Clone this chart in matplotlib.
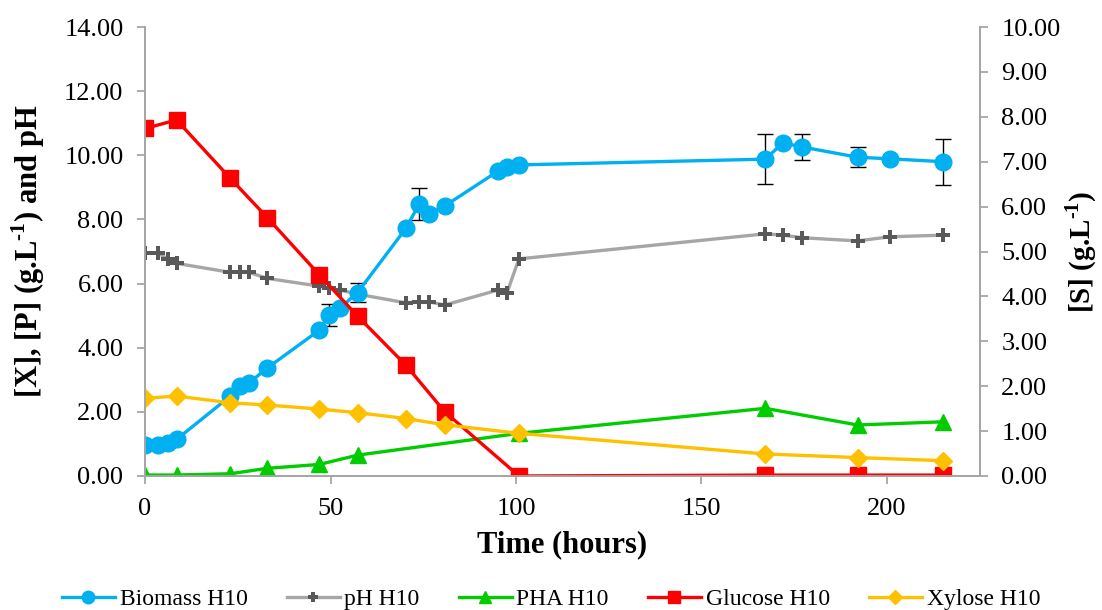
import matplotlib
matplotlib.use("Agg")
import matplotlib.pyplot as plt
from matplotlib.lines import Line2D

# ---- data ----
time_h = [0, 3.4, 6.2, 8.5, 23, 25.6, 28, 33, 47, 49.6, 52.5, 57.3, 70.3, 73.9,
          76.5, 80.8, 95.2, 97.6, 100.8, 167.2, 172, 177.1, 192.1, 200.8, 215.2]
biomass = [0.97, 0.97, 1.04, 1.14, 2.49, 2.81, 2.90, 3.37, 4.55, 5.02, 5.23, 5.72,
           7.72, 8.48, 8.17, 8.42, 9.51, 9.65, 9.70, 9.88, 10.39, 10.26, 9.94, 9.89, 9.80]
biomass_err = [0, 0, 0, 0, 0, 0, 0, 0, 0, 0.35, 0, 0.30, 0, 0.50, 0, 0, 0, 0, 0,
               0.78, 0, 0.40, 0.32, 0, 0.72]
ph = [6.94, 6.96, 6.76, 6.63, 6.35, 6.35, 6.35, 6.16, 5.92, 5.85, 5.80, 5.67, 5.40,
      5.43, 5.43, 5.33, 5.80, 5.72, 6.77, 7.55, 7.51, 7.43, 7.33, 7.46, 7.51]

pha_t = [0, 8.5, 23, 33, 47, 57.3, 100.8, 167.2, 192.1, 215.2]
pha = [0.03, 0.03, 0.07, 0.24, 0.36, 0.65, 1.33, 2.11, 1.59, 1.69]

subs_t = [0, 8.5, 23, 33, 47, 57.3, 70.3, 80.8, 100.8, 167.2, 192.1, 215.2]
glucose = [7.74, 7.93, 6.63, 5.75, 4.48, 3.56, 2.47, 1.43, 0.0, 0.02, 0.02, 0.02]
xylose = [1.73, 1.78, 1.63, 1.58, 1.49, 1.41, 1.28, 1.14, 0.95, 0.49, 0.41, 0.34]

x_ticks = [0, 50, 100, 150, 200]
left_ticks = [0, 2, 4, 6, 8, 10, 12, 14]
right_ticks = [0, 1, 2, 3, 4, 5, 6, 7, 8, 9, 10]

plt.rcParams["font.family"] = ["Liberation Serif", "DejaVu Serif"]
# mathtext only used in the bold axis labels -> make rm bold so \text{-1} keeps a hyphen
plt.rcParams["mathtext.fontset"] = "custom"
plt.rcParams["mathtext.rm"] = "Liberation Serif:bold"
plt.rcParams["mathtext.bf"] = "Liberation Serif:bold"

AXC = "#A6A6A6"
LW = 2.4

fig = plt.figure(figsize=(11.02, 6.10), dpi=100)
ax = fig.add_axes([0.1316, 0.2197, 0.889 - 0.1316, 0.9557 - 0.2197])
ax2 = ax.twinx()

ax.errorbar(time_h, biomass, yerr=biomass_err, color="#00B0F0", lw=LW, marker="o",
            ms=12, ecolor="black", elinewidth=1, capsize=6, capthick=1, zorder=3)
ax.plot(time_h, ph, color=AXC, lw=LW, marker="P", ms=10, mfc="#595959",
        mec="#595959", mew=0, zorder=3)
ax.plot(pha_t, pha, color="#00CC00", lw=LW, marker="^", ms=12, zorder=3)

ax2.plot(subs_t, glucose, color="#FF0000", lw=LW, marker="s", ms=11)
ax2.plot(subs_t, xylose, color="#FFC000", lw=LW, marker="D", ms=9)

ax.set_xlim(0, 225)
ax.set_ylim(0, 14)
ax2.set_ylim(0, 10)
ax.set_xticks(x_ticks)
ax.set_yticks(left_ticks)
ax2.set_yticks(right_ticks)
ax.set_yticklabels([f"{v:.2f}" for v in left_ticks])
ax2.set_yticklabels([f"{v:.2f}" for v in right_ticks])

for a in (ax, ax2):
    a.spines["top"].set_visible(False)
    for s in ("left", "right", "bottom"):
        a.spines[s].set_color(AXC)
        a.spines[s].set_linewidth(1.3)
    a.tick_params(colors=AXC, labelcolor="black", labelsize=19, length=5.5, width=1.3)
ax.tick_params(axis="x", pad=10)
ax.tick_params(axis="y", pad=10)
ax2.tick_params(axis="y", pad=10)

ax.set_xlabel("Time (hours)", fontsize=22, fontweight="bold", labelpad=8)
ax.set_ylabel(r"[X], [P] (g.L$^{\text{-1}}$) and pH", fontsize=22, fontweight="bold", labelpad=12)
ax2.set_ylabel(r"[S] (g.L$^{\text{-1}}$)", fontsize=21, fontweight="bold", labelpad=2)

handles = [
    Line2D([], [], color="#00B0F0", lw=LW, marker="o", ms=12),
    Line2D([], [], color=AXC, lw=LW, marker="P", ms=10, mfc="#595959", mec="#595959", mew=0),
    Line2D([], [], color="#00CC00", lw=LW, marker="^", ms=12),
    Line2D([], [], color="#FF0000", lw=LW, marker="s", ms=11),
    Line2D([], [], color="#FFC000", lw=LW, marker="D", ms=9),
]
labels = ["Biomass H10", "pH H10", "PHA H10", "Glucose H10", "Xylose H10"]
fig.legend(handles, labels, loc="lower center", bbox_to_anchor=(0.5, -0.035), ncol=5,
           frameon=False, fontsize=17, handlelength=2.25, columnspacing=1.65,
           handletextpad=0.2, markerscale=0.75)

fig.savefig("out.png", dpi=100, facecolor="white")
